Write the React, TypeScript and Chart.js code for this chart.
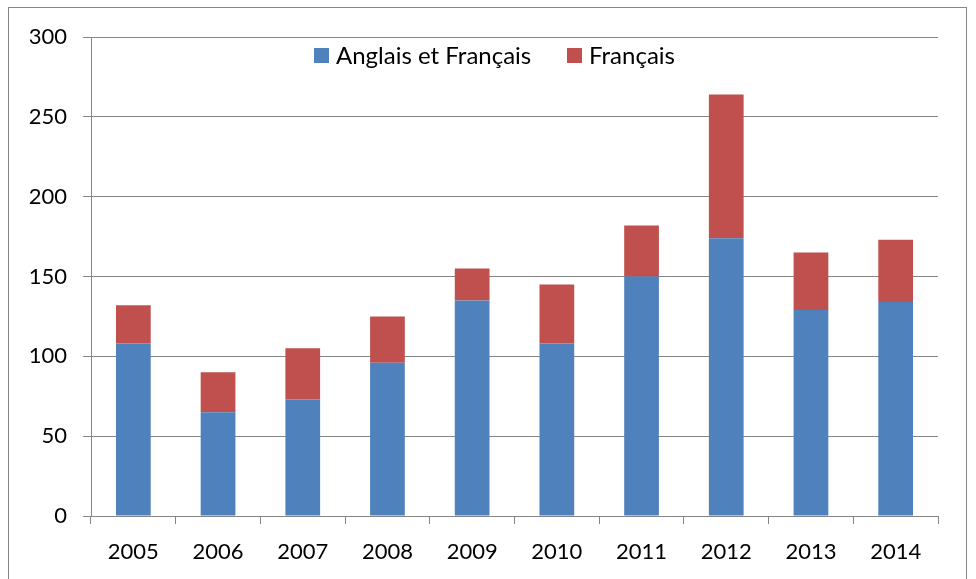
import React, { useEffect, useRef } from "react";
import { Chart, registerables } from "chart.js";

Chart.register(...registerables);

const years = ["2005", "2006", "2007", "2008", "2009", "2010", "2011", "2012", "2013", "2014"];
const anglaisEtFrancais = [108, 65, 73, 96, 135, 108, 150, 174, 129, 134];
const francais = [24, 25, 32, 29, 20, 37, 32, 90, 36, 39];
const seriesNames = ["Anglais et Français", "Français"];
const seriesColors = ["#4F81BD", "#C0504D"];

const FONT = "Lato, 'Liberation Sans', sans-serif";

const insideLegend = {
  id: "insideLegend",
  afterDraw(chart: any) {
    const { ctx, chartArea } = chart;
    const offsets = [223, 476];
    ctx.save();
    ctx.font = `24px ${FONT}`;
    ctx.textBaseline = "alphabetic";
    ctx.textAlign = "left";
    seriesNames.forEach((name, i) => {
      const x = chartArea.left + offsets[i];
      const y = chartArea.top + 11;
      ctx.fillStyle = seriesColors[i];
      ctx.fillRect(x, y, 15, 15);
      ctx.fillStyle = "#000";
      ctx.fillText(name, x + 22, y + 16);
    });
    ctx.restore();
  },
};

export default function App() {
  const ref = useRef<HTMLCanvasElement | null>(null);

  useEffect(() => {
    if (!ref.current) return;
    const chart = new Chart(ref.current, {
      type: "bar",
      data: {
        labels: years,
        datasets: [
          {
            label: seriesNames[0],
            data: anglaisEtFrancais,
            backgroundColor: seriesColors[0],
            barPercentage: 0.41,
            categoryPercentage: 1,
          },
          {
            label: seriesNames[1],
            data: francais,
            backgroundColor: seriesColors[1],
            barPercentage: 0.41,
            categoryPercentage: 1,
          },
        ],
      },
      options: {
        responsive: false,
        animation: false,
        layout: { padding: { left: 20, top: 37, right: 38, bottom: 0 } },
        plugins: {
          tooltip: { enabled: false },
          legend: { display: false },
        },
        scales: {
          x: {
            stacked: true,
            offset: true,
            afterFit: (s: any) => {
              s.height = 63;
            },
            grid: {
              offset: true,
              drawOnChartArea: false,
              drawTicks: true,
              tickLength: 8,
              color: "#868686",
            },
            border: { color: "#868686", width: 1 },
            ticks: {
              color: "#000",
              padding: 15,
              font: { family: FONT, size: 22 },
              maxRotation: 0,
            },
          },
          y: {
            stacked: true,
            min: 0,
            max: 300,
            afterFit: (s: any) => {
              s.width = 71;
            },
            grid: {
              color: "#868686",
              lineWidth: 1,
              drawTicks: true,
              tickLength: 8,
            },
            border: { color: "#868686", width: 1 },
            ticks: {
              stepSize: 50,
              color: "#000",
              padding: 16,
              font: { family: FONT, size: 22 },
            },
          },
        },
      },
      plugins: [insideLegend],
    });
    return () => chart.destroy();
  }, []);

  return (
    <div style={{ position: "fixed", left: 0, top: 0, width: 976, height: 579, background: "#fff", overflow: "hidden" }}>
      <div
        style={{
          position: "absolute",
          left: 8,
          top: 7,
          width: 959,
          height: 620,
          border: "1px solid #868686",
          boxSizing: "border-box",
        }}
      />
      <canvas ref={ref} width={976} height={579} style={{ position: "absolute", left: 0, top: 0 }} />
    </div>
  );
}
